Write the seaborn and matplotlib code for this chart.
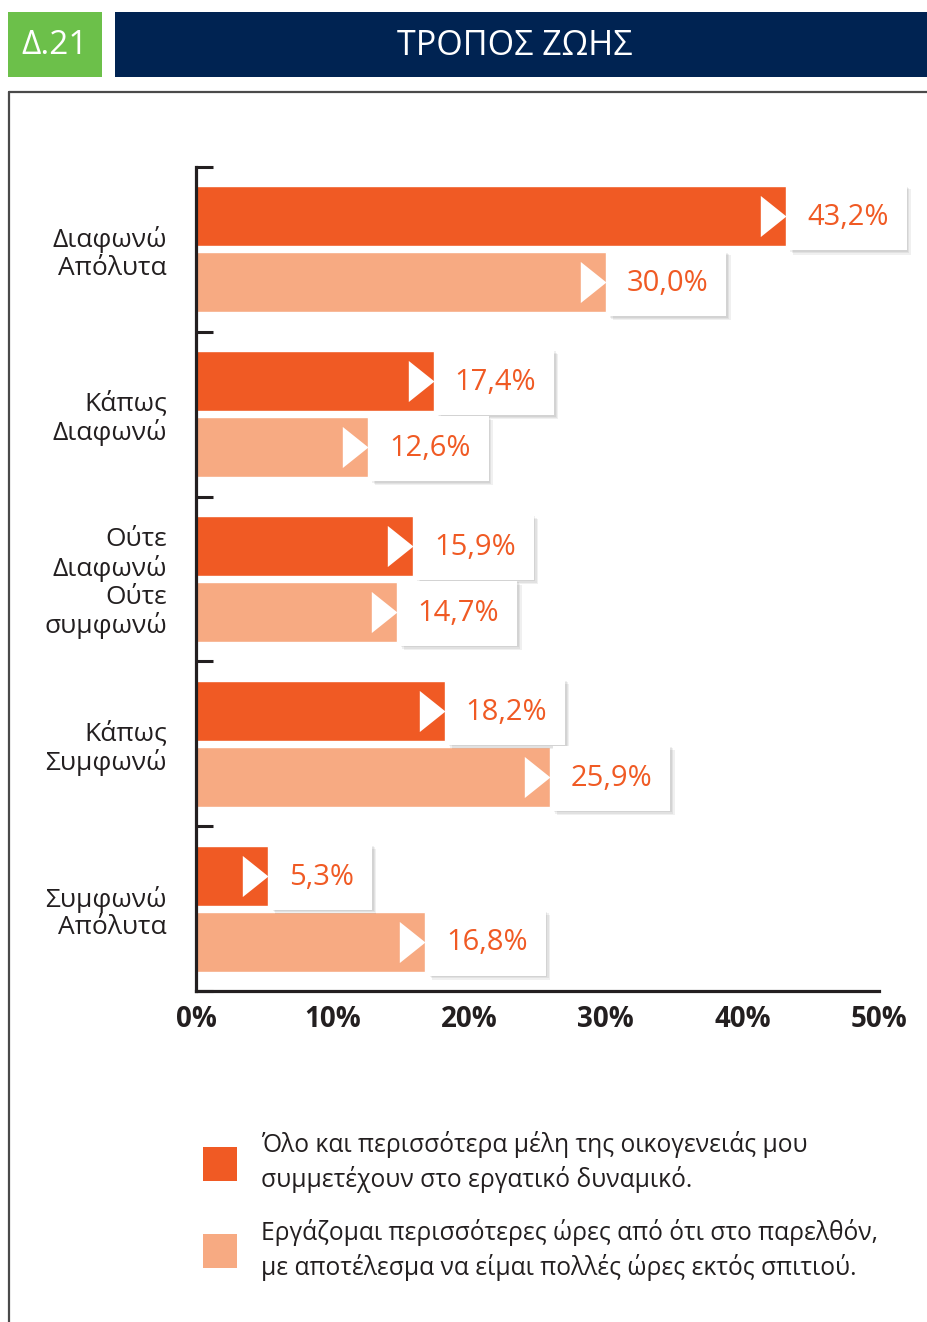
import numpy as np
import pandas as pd
import matplotlib
matplotlib.use("Agg")
import matplotlib.pyplot as plt
from matplotlib.patches import Rectangle
from matplotlib.lines import Line2D
import matplotlib.patheffects as pe
import seaborn as sns

# ---- data ----
categories = [
    "Διαφωνώ\nΑπόλυτα",
    "Κάπως\nΔιαφωνώ",
    "Ούτε\nΔιαφωνώ\nΟύτε\nσυμφωνώ",
    "Κάπως\nΣυμφωνώ",
    "Συμφωνώ\nΑπόλυτα",
]
series_names = [
    "Όλο και περισσότερα μέλη της οικογενειάς μου\nσυμμετέχουν στο εργατικό δυναμικό.",
    "Εργάζομαι περισσότερες ώρες από ότι στο παρελθόν,\nμε αποτέλεσμα να είμαι πολλές ώρες εκτός σπιτιού.",
]
family_members = [43.2, 17.4, 15.9, 18.2, 5.3]
more_hours = [30.0, 12.6, 14.7, 25.9, 16.8]
x_ticks = [0, 10, 20, 30, 40, 50]
x_tick_labels = ["0%", "10%", "20%", "30%", "40%", "50%"]
header_code = "Δ.21"
header_title = "ΤΡΟΠΟΣ ΖΩΗΣ"

ORANGE = "#F05A24"
LIGHT = "#F7AA82"
INK = "#231F20"
GREEN = "#6CC04A"
NAVY = "#002352"

df = pd.DataFrame({
    "category": categories * 2,
    "series": [series_names[0]] * len(categories) + [series_names[1]] * len(categories),
    "value": family_members + more_hours,
})

sns.set_theme(style="white")
plt.rcParams["font.family"] = ["Open Sans", "DejaVu Sans"]

W, H = 927, 1322
fig = plt.figure(figsize=(W / 100, H / 100), dpi=100)


def fx(px):
    return px / W


def fy(py):
    return 1 - py / H


# header bands
fig.add_artist(Rectangle((fx(8), fy(77)), fx(94), 65 / H, transform=fig.transFigure,
                         facecolor=GREEN, edgecolor="none"))
fig.add_artist(Rectangle((fx(115), fy(77)), fx(812), 65 / H, transform=fig.transFigure,
                         facecolor=NAVY, edgecolor="none"))
fig.text(fx(55), fy(46), header_code, color="white", fontsize=24, ha="center", va="center")
fig.text(fx(515), fy(46), header_title, color="white", fontsize=24.5, ha="center", va="center")

# panel frame
fig.add_artist(Line2D([fx(9), fx(927)], [fy(92), fy(92)], transform=fig.transFigure,
                      color="#4a4a4a", lw=1.6))
fig.add_artist(Line2D([fx(9), fx(9)], [fy(92), fy(1322)], transform=fig.transFigure,
                      color="#4a4a4a", lw=1.6))

ax = fig.add_axes([fx(196), fy(991), fx(879) - fx(196), (991 - 167) / H])

sns.barplot(data=df, y="category", x="value", hue="series", orient="h",
            palette=[ORANGE, LIGHT], saturation=1, width=0.8, gap=0.09,
            ax=ax, legend=False)

ax.set_xlim(0, 50)
ax.set_ylim(len(categories) - 0.5, -0.5)
ax.set_xlabel("")
ax.set_ylabel("")

for side in ("top", "right"):
    ax.spines[side].set_visible(False)
for side in ("left", "bottom"):
    ax.spines[side].set_color(INK)
    ax.spines[side].set_linewidth(2.3)

ax.set_xticks(x_ticks)
ax.set_xticklabels(x_tick_labels, fontsize=20, fontweight="bold", color=INK)
ax.tick_params(axis="x", direction="in", length=15, width=2.2, color=INK, pad=10)

ax.set_yticks(range(len(categories)))
ax.set_yticklabels(categories, fontsize=19, color=INK, linespacing=1.13)
ax.tick_params(axis="y", which="major", length=0, pad=21)
ax.set_yticks(np.arange(-0.5, len(categories)), minor=True)
ax.tick_params(axis="y", which="minor", direction="in", length=12, width=2.2,
               color=INK, left=True)
for lbl in ax.get_yticklabels():
    lbl.set_verticalalignment("center_baseline")

# value call-outs: white arrowhead at the bar tip and a shadowed label box
arrow = [(0, 0), (-1, 0.8), (-1, -0.8)]
for container, values in zip(ax.containers, [family_members, more_hours]):
    for bar, v in zip(container, values):
        yc = bar.get_y() + bar.get_height() / 2
        ax.plot(v, yc, marker=arrow, markersize=37, color="white",
                markeredgewidth=0, zorder=4, clip_on=False)
        label = f"{v:.1f}".replace(".", ",") + "%"
        t = ax.annotate(label, xy=(v, yc), xytext=(15, -1), textcoords="offset points",
                        ha="left", va="center", fontsize=21, color=ORANGE,
                        zorder=6, annotation_clip=False,
                        bbox=dict(boxstyle="square,pad=0.62", facecolor="white",
                                  edgecolor="none"))
        t.get_bbox_patch().set_path_effects(
            [pe.SimplePatchShadow(offset=(o, -o), shadow_rgbFace="black", alpha=0.06)
             for o in (3, 2, 1)] + [pe.Normal()])

# legend
handles = [Rectangle((0, 0), 1, 1, facecolor=c, edgecolor="none") for c in (ORANGE, LIGHT)]
leg = fig.legend(handles, series_names, loc="upper left",
                 bbox_to_anchor=(fx(203), fy(1131)), frameon=False,
                 fontsize=17.7, handlelength=1.4, handleheight=1.75,
                 handletextpad=0.95, labelspacing=1.05, borderpad=0, borderaxespad=0)
for txt in leg.get_texts():
    txt.set_color(INK)
    txt.set_linespacing(1.38)

fig.savefig("out.png", dpi=100)
